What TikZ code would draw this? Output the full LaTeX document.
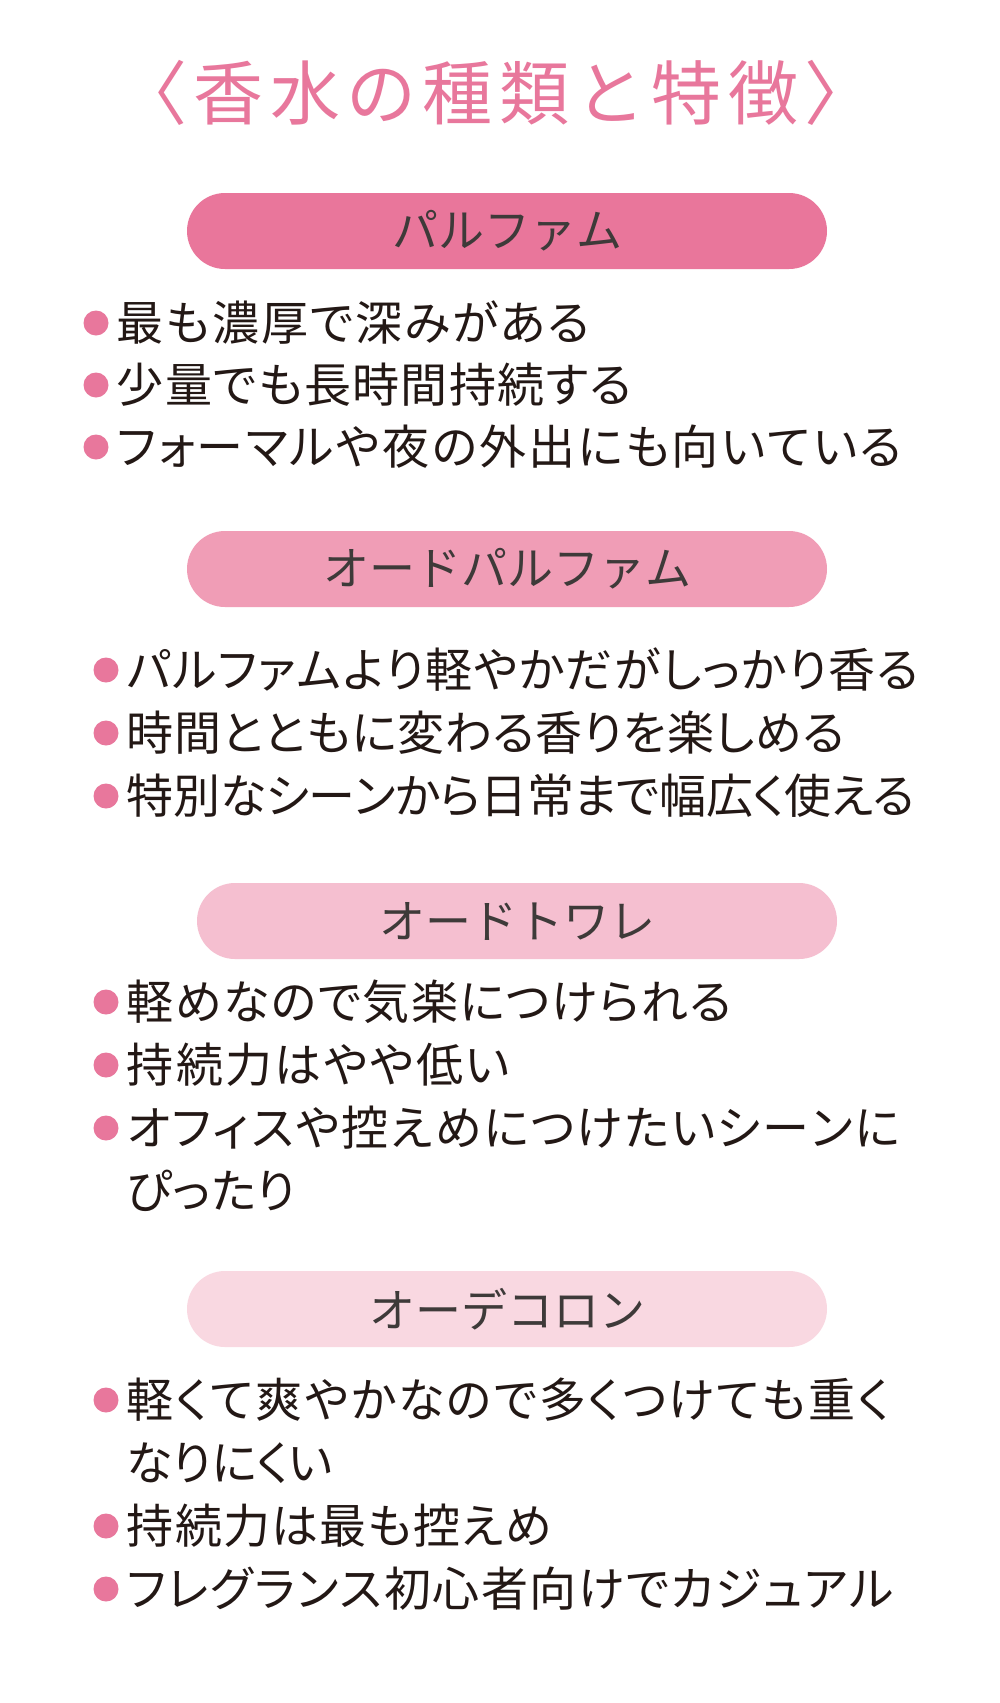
\documentclass[tikz,border=0pt]{standalone}
\usepackage{fontspec}
\setmainfont[RawFeature=+palt]{Noto Sans CJK JP}
\newfontfamily\fullwidthfont{Noto Sans CJK JP}
\usepackage{xcolor}
\usetikzlibrary{positioning}

% spread a line of kana/kanji to a given width
\def\spreadchars#1{\ifx#1\relax\else#1\hskip 0pt plus 1fil minus 1fil\expandafter\spreadchars\fi}
\newcommand{\spreadto}[2]{\hbox to #1pt{\spreadchars#2\relax\unskip}}

\definecolor{rosepink}{HTML}{E8779C}
\definecolor{barA}{HTML}{E9769B}
\definecolor{barB}{HTML}{F09DB6}
\definecolor{barC}{HTML}{F5BFD0}
\definecolor{barD}{HTML}{F9D8E1}
\definecolor{inkbrown}{HTML}{231815}
\definecolor{barink}{HTML}{3E3A39}

\tikzset{
  pill/.style={rounded corners=38pt, minimum width=640pt, minimum height=76pt,
    inner sep=0pt, text=barink, font=\fullwidthfont\fontsize{46}{46}\selectfont},
  bul/.style={circle, fill=rosepink, minimum size=25pt, inner sep=0pt},
  itemtext/.style={inner sep=0pt, text=inkbrown, text height=41pt, text depth=6pt,
    font=\fontsize{47}{47}\selectfont},
}

\begin{document}
\begin{tikzpicture}[x=1pt, y=-1pt]
    \useasboundingbox[fill=white] (0,0) rectangle (1000,1703);
    \node[text=rosepink, font=\fullwidthfont\fontsize{70}{70}\selectfont, inner sep=0pt] (title) at (496,93)
        {\spreadto{757}{〈香水の種類と特徴〉}};

    % parfum
    \node[pill, fill=barA] (parfum) at (507,231) {パルファム};
    \node[bul] (d11) at (96,323) {};
    \node[bul] (d12) at (96,385) {};
    \node[bul] (d13) at (96,447) {};
    \node[itemtext, right=8pt of d11] (t11) {\spreadto{473}{最も濃厚で深みがある}};
    \node[itemtext, right=8pt of d12] (t12) {\spreadto{515}{少量でも長時間持続する}};
    \node[itemtext, right=8pt of d13] (t13) {\spreadto{785}{フォーマルや夜の外出にも向いている}};

    % eau de parfum
    \node[pill, fill=barB] (edp) at (507,569) {オードパルファム};
    \node[bul] (d21) at (106,670) {};
    \node[bul] (d22) at (106,733) {};
    \node[bul] (d23) at (106,796) {};
    \node[itemtext, right=8pt of d21] (t21) {\spreadto{792}{パルファムより軽やかだがしっかり香る}};
    \node[itemtext, right=8pt of d22] (t22) {\spreadto{718}{時間とともに変わる香りを楽しめる}};
    \node[itemtext, right=8pt of d23] (t23) {\spreadto{788}{特別なシーンから日常まで幅広く使える}};

    % eau de toilette
    \node[pill, fill=barC] (edt) at (517,921) {オードトワレ};
    \node[bul] (d31) at (106,1002) {};
    \node[bul] (d32) at (106,1065) {};
    \node[bul] (d33) at (106,1128) {};
    \node[itemtext, right=8pt of d31] (t31) {\spreadto{605}{軽めなので気楽につけられる}};
    \node[itemtext, right=8pt of d32] (t32) {\spreadto{383}{持続力はやや低い}};
    \node[itemtext, right=8pt of d33] (t33) {\spreadto{773}{オフィスや控えめにつけたいシーンに}};
    \path (t33.west) ++ (0,63) node[itemtext, anchor=west] (t34) {\spreadto{169}{ぴったり}};

    % eau de cologne
    \node[pill, fill=barD] (edc) at (507,1309) {オーデコロン};
    \node[bul] (d41) at (106,1400) {};
    \node[bul] (d43) at (106,1526) {};
    \node[bul] (d44) at (106,1589) {};
    \node[itemtext, right=8pt of d41] (t41) {\spreadto{763}{軽くて爽やかなので多くつけても重く}};
    \path (t41.west) ++ (0,63) node[itemtext, anchor=west] (t42) {\spreadto{206}{なりにくい}};
    \node[itemtext, right=8pt of d43] (t43) {\spreadto{425}{持続力は最も控えめ}};
    \node[itemtext, right=8pt of d44] (t44) {\spreadto{767}{フレグランス初心者向けでカジュアル}};
\end{tikzpicture}
\end{document}
